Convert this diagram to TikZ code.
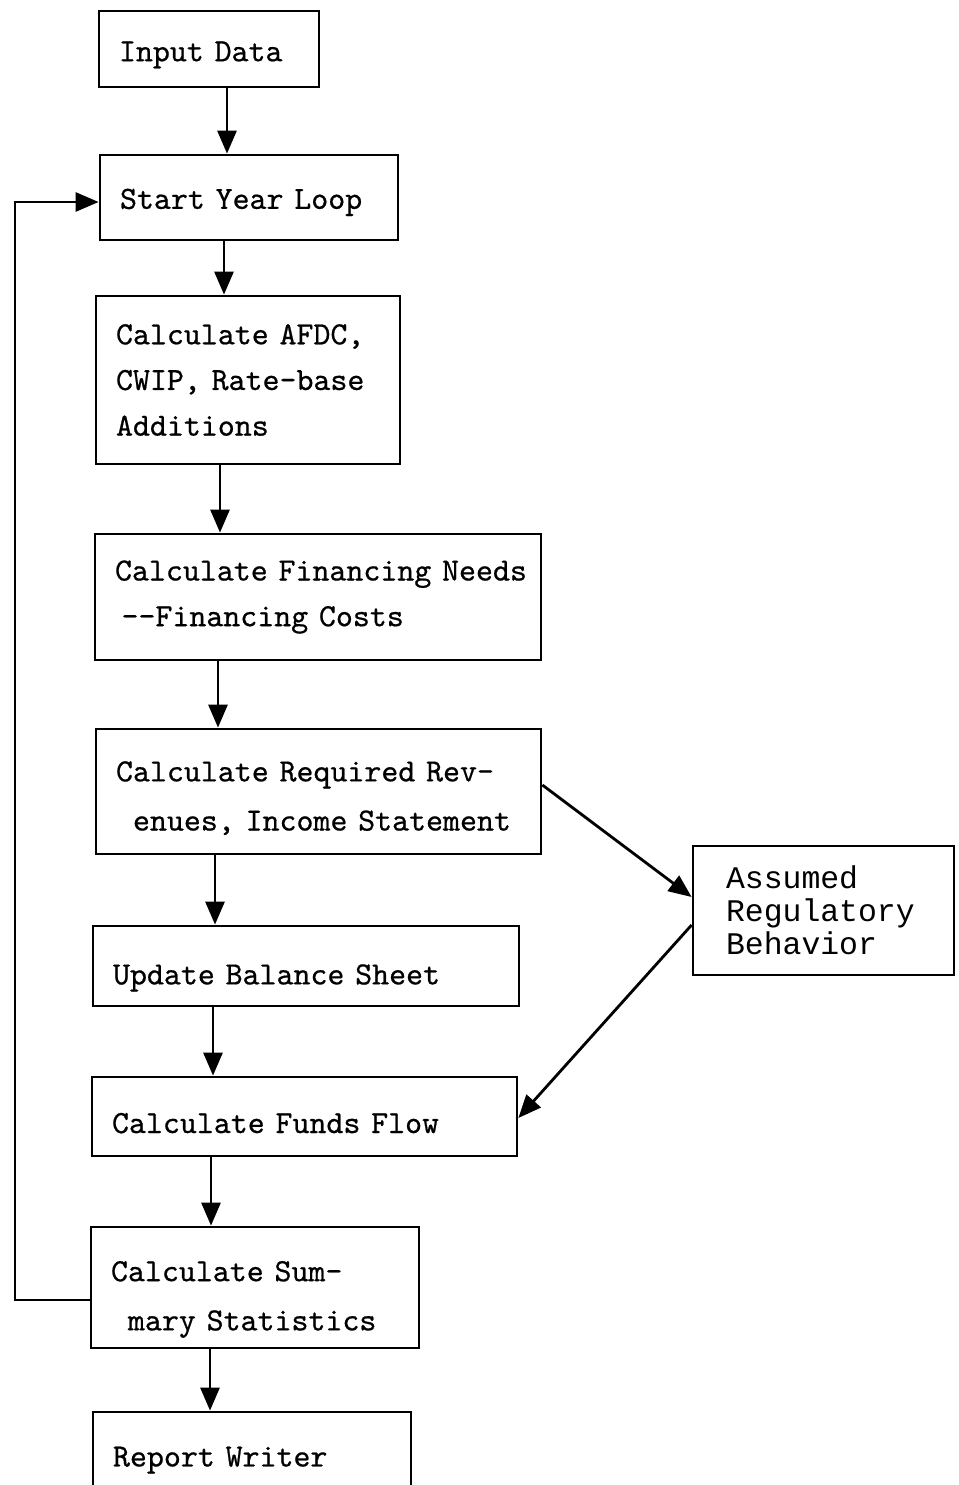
\documentclass[tikz,border=0pt]{standalone}
\usepackage{fontspec}
\newfontfamily\sidefont{Liberation Mono}
\newfontfamily\stagefont{lmmono10-regular}[Extension=.otf, FakeBold=0.6]
\usetikzlibrary{arrows.meta}
\tikzset{
	>={Triangle[length=0.46cm,width=0.38cm]},
}

\begin{document}
\begin{tikzpicture}[x=0.02cm, y=-0.02cm, line width=1.6pt,
	stage/.style = {draw, rectangle, align=left, inner xsep=0.4cm, inner ysep=0, font=\fontsize{18.4}{26}\selectfont\stagefont},
	textdrop/.style = {execute at begin node={\rule{0pt}{#1}}},
	side/.style = {draw, rectangle, align=left, inner xsep=0.66cm, inner ysep=0, font=\fontsize{17.9}{18.8}\selectfont\sidefont}]
\useasboundingbox (0,0) rectangle (958,1485);
% main chain of stages
\node[stage, textdrop=18pt, text width=3.6cm, minimum height=1.52cm] (input) at (209,49) {Input Data};
\node[stage, textdrop=17pt, text width=5.16cm, minimum height=1.7cm] (start) at (249,197.5) {Start Year Loop};
\node[stage, text width=5.28cm, minimum height=3.36cm] (afdc) at (248,380) {\mbox{Calculate AFDC,}\\\mbox{CWIP, Rate-base}\\Additions};
\node[stage, text width=8.12cm, minimum height=2.52cm] (finance) at (318,597) {\mbox{Calculate Financing Needs}\\\hspace*{0.2em}{-}{-}Financing Costs};
\node[stage, textdrop=19pt, text width=8.1cm, minimum height=2.5cm] (revenue) at (318.5,791.5) {\mbox{Calculate Required Rev-}\\[2pt]\hspace*{0.525em}\mbox{enues, Income Statement}};
\node[stage, textdrop=25pt, text width=7.72cm, minimum height=1.6cm] (update) at (306,966) {Update Balance Sheet};
\node[stage, textdrop=19pt, text width=7.7cm, minimum height=1.58cm] (funds) at (304.5,1116.5) {Calculate Funds Flow};
\node[stage, textdrop=25pt, text width=5.76cm, minimum height=2.42cm] (summary) at (255,1287.5) {Calculate Sum-\\[2pt]\hspace*{0.525em}mary Statistics};
\node[stage, textdrop=16pt, text width=5.56cm, minimum height=1.76cm] (report) at (252,1456) {Report Writer};
% side box
\node[side, text width=3.9cm, minimum height=2.58cm] (regulatory) at (823.5,910.5) {Assumed\\Regulatory\\Behavior};
% connectors
\draw[->] (input.south -| 227,0) -- (start.north -| 227,0);
\draw[->] (start.south -| 224,0) -- (afdc.north -| 224,0);
\draw[->] (afdc.south -| 220,0) -- (finance.north -| 220,0);
\draw[->] (finance.south -| 218,0) -- (revenue.north -| 218,0);
\draw[->] (revenue.south -| 215,0) -- (update.north -| 215,0);
\draw[->] (update.south -| 213,0) -- (funds.north -| 213,0);
\draw[->] (funds.south -| 211,0) -- (summary.north -| 211,0);
\draw[->] (summary.south -| 210,0) -- (report.north -| 210,0);
\coordinate (loopcorner) at (15,202);
\draw[->] (summary.west |- 0,1300) -| (loopcorner) -- (start.west |- 0,202);
\draw[->] (revenue.east |- 0,785) -- (regulatory.west |- 0,897);
\draw[->] (regulatory.west |- 0,925) -- (funds.east |- 0,1118);
\end{tikzpicture}
\end{document}
